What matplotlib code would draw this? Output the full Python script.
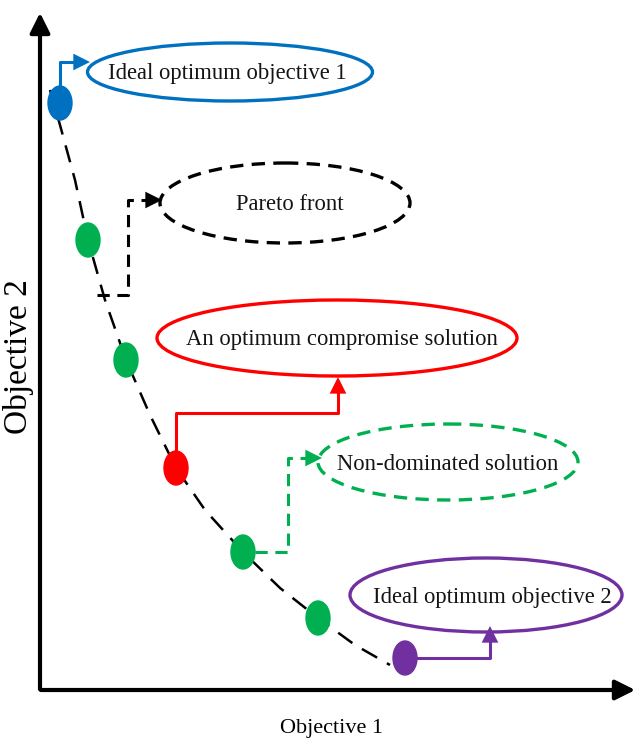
import matplotlib.pyplot as plt
from matplotlib.patches import Ellipse

plt.rcParams['font.family'] = ['Liberation Serif', 'DejaVu Serif']

# ---- data (drawing units = image pixels, y grows downward) ----
front_x = [50, 60, 75, 88, 105, 126, 150, 176, 205, 243, 280, 318, 355, 390]
front_y = [90, 125, 180, 240, 300, 360, 415, 468, 510, 552, 588, 618, 645, 665]

pt_x = [60, 88, 126, 176, 243, 318, 405]
pt_y = [103, 240, 360, 468, 552, 618, 658]
pt_color = ['#0070C0', '#00B050', '#00B050', '#FF0000', '#00B050', '#00B050', '#7030A0']

labels = ['Ideal optimum objective 1', 'Pareto front', 'An optimum compromise solution',
          'Non-dominated solution', 'Ideal optimum objective 2']
label_color = ['#0070C0', 'black', '#FF0000', '#00B050', '#7030A0']
label_dashed = [False, True, False, True, False]
ell_cx = [230, 285, 337, 448, 486]
ell_cy = [72, 203, 338, 462, 595]
ell_w = [285, 250, 360, 260, 272]
ell_h = [58, 80, 76, 76, 74]
text_cx = [227, 290, 342, 448, 492]

# connector paths (last segment ends in arrow head)
conn_x = [[60, 60, 90], [97, 128, 128, 162], [176, 176, 338, 338],
          [255, 288, 288, 322], [405, 490, 490]]
conn_y = [[88, 62, 62], [295, 295, 200, 200], [455, 413, 413, 377],
          [552, 552, 458, 458], [658, 658, 626]]

fig = plt.figure(figsize=(6.38, 7.49), dpi=100)
ax = fig.add_axes([0, 0, 1, 1])
ax.set_xlim(0, 638)
ax.set_ylim(749, 0)
ax.axis('off')

# axes with arrows
ax.annotate('', xy=(40, 10), xytext=(40, 692),
            arrowprops=dict(arrowstyle='-|>', color='black', lw=3, mutation_scale=30))
ax.annotate('', xy=(638, 690), xytext=(38, 690),
            arrowprops=dict(arrowstyle='-|>', color='black', lw=3, mutation_scale=30))
ax.text(332, 728, 'Objective 1', fontsize=16, ha='center', va='center')
ax.text(19, 357, 'Objective 2', fontsize=24, ha='center', va='center', rotation=90)

# pareto front
ax.plot(front_x, front_y, color='black', lw=1.8, dashes=(7, 4.5), zorder=2)

for i in range(len(labels)):
    c = label_color[i]
    ls = (0, (4, 2.5)) if label_dashed[i] else '-'
    xs, ys = conn_x[i], conn_y[i]
    ax.plot(xs[:-1] + [xs[-1] - (xs[-1] - xs[-2]) * 0.4],
            ys[:-1] + [ys[-1] - (ys[-1] - ys[-2]) * 0.4],
            color=c, lw=2.2, linestyle=ls, zorder=2)
    ax.annotate('', xy=(xs[-1], ys[-1]), xytext=(xs[-2], ys[-2]),
                arrowprops=dict(arrowstyle='-|>', color=c, lw=0, mutation_scale=30,
                                shrinkA=0, shrinkB=0), zorder=3)
    ax.add_patch(Ellipse((ell_cx[i], ell_cy[i]), ell_w[i], ell_h[i], fill=False,
                         edgecolor=c, lw=2.4, linestyle=ls, zorder=2))
    ax.text(text_cx[i], ell_cy[i] + 2, labels[i], fontsize=16.3, ha='center',
            va='center', color='#141414', zorder=4)

for x, y, c in zip(pt_x, pt_y, pt_color):
    ax.add_patch(Ellipse((x, y), 24, 34, color=c, zorder=5))

fig.savefig('out.png', dpi=100)
